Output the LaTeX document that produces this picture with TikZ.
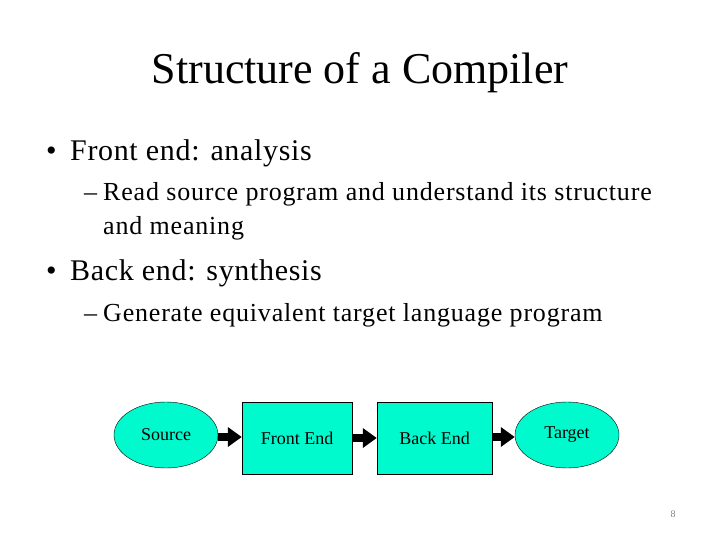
\documentclass[tikz,border=0pt]{standalone}
\usepackage{fontspec}
\setmainfont{Liberation Serif}
\usepackage{xcolor}
\usetikzlibrary{arrows.meta,positioning,shapes.geometric}
\definecolor{stagecol}{RGB}{0,250,205}

\begin{document}
\begin{tikzpicture}[x=1pt,y=-1pt,
    flow/.style={-{Triangle[length=14pt,width=19pt]},line width=8pt,black},
    oval node/.style={ellipse,draw,fill=stagecol,minimum width=104pt,minimum height=66pt,
                      inner sep=0pt,font=\fontsize{18}{20}\selectfont},
    box node/.style={rectangle,draw,fill=stagecol,minimum height=72pt,
                     inner sep=0pt,font=\fontsize{18}{20}\selectfont},
    item/.style={anchor=base west,inner sep=0pt,
                 font=\fontsize{30}{34}\selectfont\addfontfeature{LetterSpace=2.2}},
    subitem/.style={anchor=base west,inner sep=0pt,
                    font=\fontsize{26}{30}\selectfont\addfontfeature{LetterSpace=3.1}}]
  \useasboundingbox (0,0) rectangle (720,540);

  % title
  \node[font=\fontsize{44}{50}\selectfont,anchor=base] (title) at (360,84) {Structure of a Compiler};

  % bullets
  \node[item] (b1) at (46,161) {\textbullet};
  \node[item] (t1) at (70,161) {Front end: analysis};
  \node[subitem] (d1) at (84,201) {--};
  \node[subitem] (s1) at (103,201) {Read source program and understand its structure};
  \node[subitem] (s2) at (103,235) {and meaning};
  \node[item] (b2) at (46,280) {\textbullet};
  \node[item] (t2) at (70,280) {Back end: synthesis};
  \node[subitem] (d2) at (84,321) {--};
  \node[subitem] (s3) at (103,321) {Generate equivalent target language program};

  % pipeline
  \node[oval node] (src) at (166,435) {Source};
  \node[box node,minimum width=110pt] (fe) at (297,438) {Front End};
  \node[box node,minimum width=115pt] (be) at (434.5,438) {Back End};
  \node[oval node] (tgt) at (567,435) {Target};

  \draw[flow] (src.east |- 0,437) -- (fe.west |- 0,437);
  \draw[flow] (fe.east) -- (be.west);
  \draw[flow] (be.east |- 0,437) -- (tgt.west |- 0,437);

  % page number
  \node[font=\fontsize{10}{12}\selectfont,text=gray] (pg) at (673,514) {8};
\end{tikzpicture}
\end{document}
